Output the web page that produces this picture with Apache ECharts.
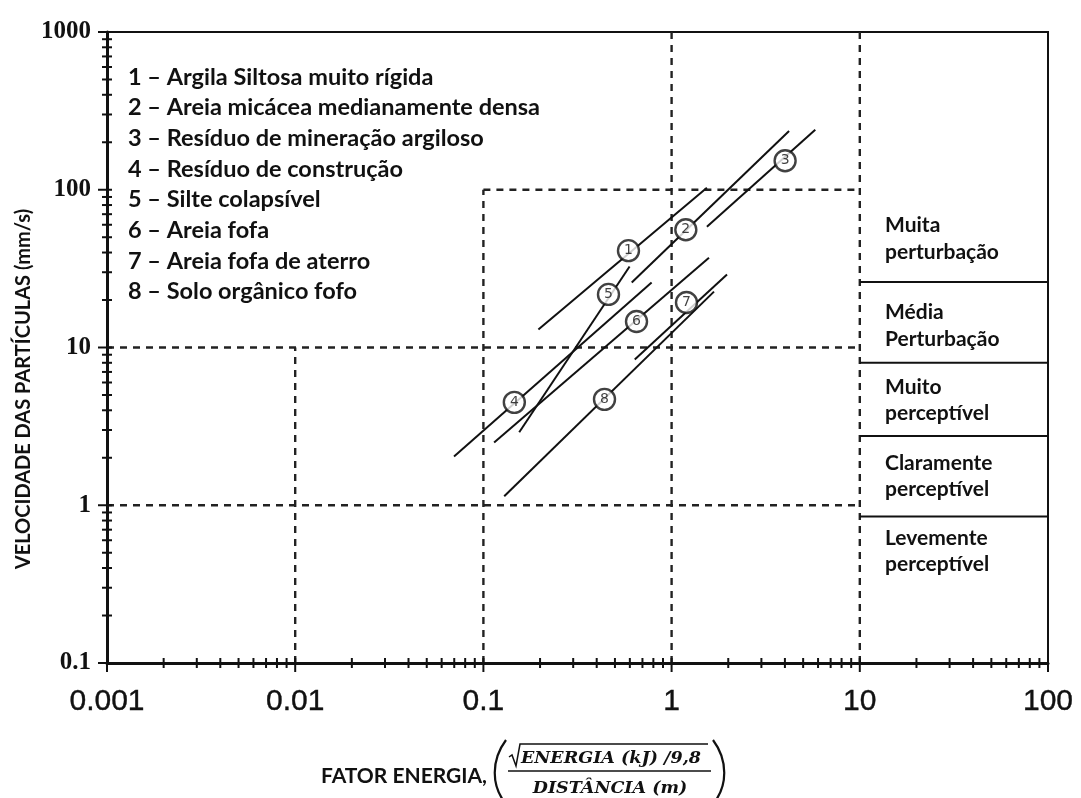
<!DOCTYPE html>
<html>
<head>
<meta charset="utf-8">
<script src="https://cdn.jsdelivr.net/npm/echarts@6/dist/echarts.min.js"></script>
<style>
  html, body { margin: 0; padding: 0; background: #fff; }
  #chart { width: 1081px; height: 798px; }
</style>
</head>
<body>
<div id="chart"></div>
<script>
// ---- Axis ticks ----
const xTickValues = [0.001, 0.01, 0.1, 1, 10, 100];
const xTickLabels = ['0.001', '0.01', '0.1', '1', '10', '100'];
const yTickValues = [0.1, 1, 10, 100, 1000];
const yTickLabels = ['0.1', '1', '10', '100', '1000'];
const minorMultipliers = [2, 3, 4, 5, 6, 7, 8, 9];

// ---- Soil types (legend) ----
const soilNames = [
  'Argila Siltosa muito rígida',
  'Areia micácea medianamente densa',
  'Resíduo de mineração argiloso',
  'Resíduo de construção',
  'Silte colapsível',
  'Areia fofa',
  'Areia fofa de aterro',
  'Solo orgânico fofo'
];

// ---- Regression lines per soil: [energy factor, particle velocity mm/s] ----
const soilStart = [
  [0.196, 13.0], [0.614, 25.8], [1.54, 58.3], [0.0698, 2.04],
  [0.155, 2.90], [0.114, 2.50], [0.637, 8.4], [0.129, 1.14]
];
const soilEnd = [
  [1.54, 103], [4.21, 236], [5.8, 240], [0.783, 25.8],
  [0.598, 32.6], [1.58, 37.1], [1.97, 29.0], [1.68, 22.6]
];
// Numbered circle on each line
const soilMarker = [
  [0.59, 41.1], [1.19, 55.8], [4.01, 152.7], [0.146, 4.49],
  [0.462, 21.7], [0.651, 14.6], [1.2, 19.3], [0.44, 4.69]
];

// ---- Partial dashed reference grid ----
const gridSegments = [
  [[0.1, 100], [10, 100]],
  [[0.001, 10], [10, 10]],
  [[0.001, 1], [10, 1]],
  [[0.01, 0.1], [0.01, 10]],
  [[0.1, 0.1], [0.1, 100]],
  [[1, 0.1], [1, 1000]],
  [[10, 0.1], [10, 1000]]
];

// ---- Human perception bands (right panel) ----
const bandLimits = [26, 8, 2.75, 0.85];
const bandLabels = [
  ['Muita', 'perturbação'],
  ['Média', 'Perturbação'],
  ['Muito', 'perceptível'],
  ['Claramente', 'perceptível'],
  ['Levemente', 'perceptível']
];
const bandRange = [10, 100];

const X_MIN = 0.001, X_MAX = 100, Y_MIN = 0.1, Y_MAX = 1000;
const INK = '#111';

// Tick positions for both log axes (decades and the 2..9 subdivisions)
function logTicks(min, max) {
  const out = [];
  for (let e = Math.round(Math.log10(min)); e <= Math.round(Math.log10(max)); e++) {
    const d = Math.pow(10, e);
    out.push([d, 1]);
    if (d < max) minorMultipliers.forEach(m => out.push([m * d, 0]));
  }
  return out;
}

const series = [];

// Dashed grid segments
gridSegments.forEach(seg => {
  series.push({
    type: 'line', data: seg, symbol: 'none', silent: true, z: 2,
    lineStyle: { color: '#222', width: 2.4, type: [7, 6] }
  });
});

// Band separators on the right
bandLimits.forEach(v => {
  series.push({
    type: 'line', data: [[bandRange[0], v], [bandRange[1], v]],
    symbol: 'none', silent: true, z: 3,
    lineStyle: { color: INK, width: 2 }
  });
});

// Soil lines
soilNames.forEach((name, i) => {
  series.push({
    type: 'line', name: name, data: [soilStart[i], soilEnd[i]],
    symbol: 'none', z: 4,
    lineStyle: { color: INK, width: 2 }
  });
});

// Numbered circles
series.push({
  type: 'scatter', z: 6,
  data: soilMarker.map((p, i) => ({ value: p, num: i + 1 })),
  symbol: 'circle', symbolSize: 21,
  itemStyle: { color: '#fff', borderColor: INK, borderWidth: 2.4 },
  label: {
    show: true, position: 'inside',
    formatter: p => String(p.data.num),
    color: INK, fontSize: 14, fontFamily: 'DejaVu Sans'
  }
});

// Axis ticks crossing the axes
series.push({
  type: 'custom', z: 8, silent: true, clip: false,
  data: logTicks(X_MIN, X_MAX).map(t => [t[0], Y_MIN, t[1]]),
  encode: { x: 0, y: 1 },
  renderItem: (params, api) => {
    const p = api.coord([api.value(0), api.value(1)]);
    const major = api.value(2) === 1;
    return {
      type: 'line',
      shape: { x1: p[0], y1: p[1] - 5, x2: p[0], y2: p[1] + (major ? 9 : 5) },
      style: { stroke: INK, lineWidth: 2 }
    };
  }
});
series.push({
  type: 'custom', z: 8, silent: true, clip: false,
  data: logTicks(Y_MIN, Y_MAX).map(t => [X_MIN, t[0], t[1]]),
  encode: { x: 0, y: 1 },
  renderItem: (params, api) => {
    const p = api.coord([api.value(0), api.value(1)]);
    const major = api.value(2) === 1;
    return {
      type: 'line',
      shape: { x1: p[0] - (major ? 9 : 5), y1: p[1], x2: p[0] + 5, y2: p[1] },
      style: { stroke: INK, lineWidth: 2 }
    };
  }
});

// Legend text block
const legendLines = soilNames.map((n, i) => ({
  type: 'text', x: 128, y: 77 + i * 30.7,
  style: { text: (i + 1) + ' – ' + n, font: 'bold 23.5px Lato', fill: INK, verticalAlign: 'middle' }
}));

// Band labels
const bandCenters = [238.5, 325.5, 400, 476, 551];
const bandText = bandLabels.map((pair, i) => ({
  type: 'text', x: 885, y: bandCenters[i],
  style: {
    text: pair.join('\n'), font: 'bold 21px Lato', fill: INK,
    lineHeight: 26.5, verticalAlign: 'middle'
  }
}));

const graphics = [].concat(legendLines, bandText, [
  // y-axis title
  {
    type: 'text', x: 24, y: 389, rotation: Math.PI / 2,
    style: {
      text: 'VELOCIDADE DAS PARTÍCULAS (mm/s)', font: 'bold 20px Lato', fill: INK,
      align: 'center', verticalAlign: 'middle'
    }
  },
  // x-axis title with the energy-factor formula
  {
    type: 'text', x: 487, y: 776,
    style: { text: 'FATOR ENERGIA,', font: 'bold 21px Lato', fill: INK, align: 'right', verticalAlign: 'middle' }
  },
  {
    type: 'bezierCurve',
    shape: { x1: 506, y1: 740, x2: 506, y2: 804, cpx1: 491, cpy1: 760, cpx2: 491, cpy2: 786 },
    style: { stroke: INK, lineWidth: 2.2, fill: null }
  },
  {
    type: 'polyline',
    shape: { points: [[509, 757], [512, 755], [516, 766], [520, 744], [708, 744]] },
    style: { stroke: INK, lineWidth: 1.5, fill: null }
  },
  {
    type: 'text', x: 521, y: 758,
    style: { text: 'ENERGIA (kJ) /9,8', font: 'italic bold 17.5px "DejaVu Serif"', fill: INK, verticalAlign: 'middle' }
  },
  {
    type: 'line', shape: { x1: 508, y1: 771, x2: 711, y2: 771 },
    style: { stroke: INK, lineWidth: 1.5 }
  },
  {
    type: 'text', x: 610, y: 788,
    style: { text: 'DISTÂNCIA (m)', font: 'italic bold 17.5px "DejaVu Serif"', fill: INK, align: 'center', verticalAlign: 'middle' }
  },
  {
    type: 'bezierCurve',
    shape: { x1: 713, y1: 740, x2: 713, y2: 804, cpx1: 728, cpy1: 760, cpx2: 728, cpy2: 786 },
    style: { stroke: INK, lineWidth: 2.2, fill: null }
  }
]);

const chart = echarts.init(document.getElementById('chart'), null, { renderer: 'canvas' });
chart.setOption({
  animation: false,
  backgroundColor: '#fff',
  grid: {
    left: 107, right: 33, top: 32, bottom: 135,
    show: true, borderColor: INK, borderWidth: 2, backgroundColor: 'transparent'
  },
  xAxis: {
    type: 'log', logBase: 10, min: X_MIN, max: X_MAX,
    axisLine: { show: true, lineStyle: { color: INK, width: 3 } },
    axisTick: { show: false },
    splitLine: { show: false },
    minorTick: { show: false },
    axisLabel: {
      margin: 24, color: INK, fontSize: 30, fontFamily: 'Liberation Sans',
      textBorderColor: INK, textBorderWidth: 0.4,
      showMinLabel: true, showMaxLabel: true,
      formatter: v => xTickLabels[Math.round(Math.log10(v)) - Math.round(Math.log10(xTickValues[0]))]
    }
  },
  yAxis: {
    type: 'log', logBase: 10, min: Y_MIN, max: Y_MAX,
    axisLine: { show: true, lineStyle: { color: INK, width: 3 } },
    axisTick: { show: false },
    splitLine: { show: false },
    minorTick: { show: false },
    axisLabel: {
      margin: 16, color: INK, fontSize: 25, fontWeight: 'bold', fontFamily: 'Liberation Serif',
      padding: [0, 0, 12, 0],
      showMinLabel: true, showMaxLabel: true,
      formatter: v => yTickLabels[Math.round(Math.log10(v)) - Math.round(Math.log10(yTickValues[0]))]
    }
  },
  series: series,
  graphic: graphics
});
</script>
</body>
</html>
